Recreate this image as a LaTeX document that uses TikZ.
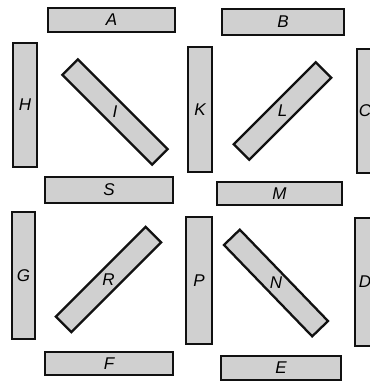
\documentclass[tikz,border=0pt]{standalone}
\usepackage{fontspec}
\setsansfont{Liberation Sans}
\usepackage{tikz}
\usetikzlibrary{positioning}
\definecolor{platefill}{HTML}{D0D0D0}
\definecolor{ink}{HTML}{111111}
\tikzset{
  plate/.style={draw=ink,fill=platefill,line width=2.3pt,inner sep=0pt,
                font=\sffamily\itshape\fontsize{17}{19}\selectfont},
  hplate/.style={plate,minimum height=24pt},
  vplate/.style={plate,minimum width=24pt},
  slant/.style={plate,minimum height=22pt,minimum width=127pt}
}

\begin{document}
\begin{tikzpicture}[x=1pt,y=-1pt]
    \path[use as bounding box] (0,0) rectangle (370,381);
    \clip (0,0) rectangle (370,381);
    % top row
    \node[hplate,minimum width=127pt] (a) at (111.5,20) {A};
    \node[hplate,minimum width=122pt,minimum height=26pt] (b) at (283,22) {B};
    % upper middle
    \node[vplate,minimum height=124pt] (h) at (25,105) {H};
    \node[slant,rotate=-45] (i) at (115,112) {\rotatebox{45}{I}};
    \node[vplate,minimum height=125pt] (k) at (200,109.5) {K};
    \node[slant,rotate=45,minimum width=116pt] (l) at (282.5,111) {\rotatebox{-45}{L}};
    \node[vplate,minimum height=124pt] (c) at (369,111) {C\hspace*{8pt}};
    % centre row
    \node[hplate,minimum width=128pt,minimum height=26pt] (s) at (109,190) {S};
    \node[hplate,minimum width=125pt,minimum height=23pt] (m) at (279.5,193.5) {M};
    % lower middle
    \node[vplate,minimum width=23pt,minimum height=127pt] (g) at (23.5,275.5) {G};
    \node[slant,rotate=45] (r) at (108.5,279.5) {\rotatebox{-45}{R}};
    \node[vplate,minimum width=26pt,minimum height=127pt] (p) at (199,280.5) {P};
    \node[slant,rotate=-46] (n) at (276,283) {\rotatebox{46}{N}};
    \node[vplate,minimum height=128pt] (d) at (367,282) {D\hspace*{4pt}};
    % bottom row
    \node[hplate,minimum width=128pt,minimum height=23pt] (f) at (109,363.5) {F};
    \node[hplate,minimum width=120pt] (e) at (281,368) {E};
\end{tikzpicture}
\end{document}
